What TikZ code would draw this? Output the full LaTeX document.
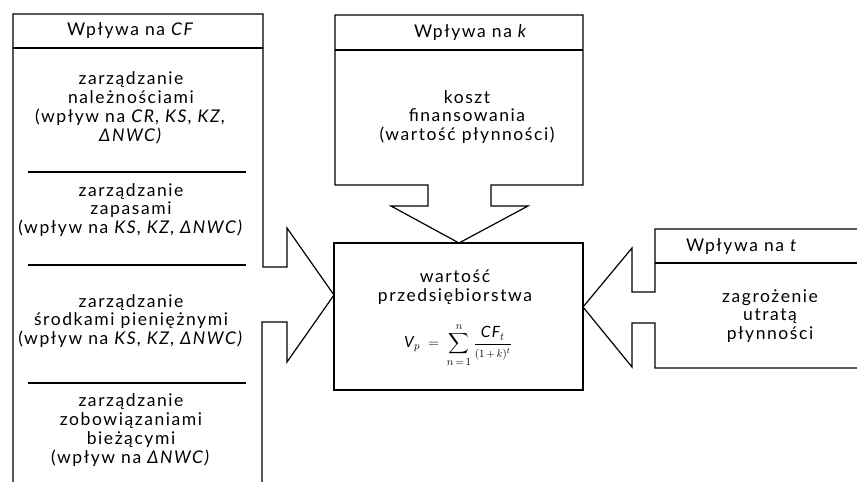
\documentclass[tikz,border=0pt]{standalone}
\usepackage{fontspec}
\usepackage{amsmath}
\setmainfont{Lato}[LetterSpace=9]
\begin{document}
\begin{tikzpicture}[x=1pt,y=-1pt,
  outline/.style={line width=1.2pt,line join=miter},
  rule/.style={line width=1.1pt},
  txt/.style={align=center,inner sep=0pt,font=\fontsize{17.5}{18.8}\selectfont},
  hdr/.style={inner sep=0pt,font=\fontsize{17.5}{18.8}\selectfont}]
\useasboundingbox (0,0) rectangle (857,482);

% tips of the three arrows on the edges of the central box
\coordinate (tipL) at (334,295);
\coordinate (tipT) at (459,243);
\coordinate (tipR) at (583,307);

% central box
\node[draw,outline,minimum width=249pt,minimum height=147pt,inner sep=0pt]
  (firm) at (458.5,316.5) {};
\node[txt] (firmtxt) at (455,287) {wartość\\przedsiębiorstwa};
\node[inner sep=0pt,font=\fontsize{15.5}{18}\selectfont] (formula) at (458,345)
  {$\displaystyle \text{\itshape V}_{p} \;=\; \sum_{n\,=\,1}^{n}
   \frac{\text{\itshape CF}_{t}}{\scriptstyle (1\,+\,k)^{t}}$};

% left box with its arrow
\draw[outline] (13,482) -- (13,14) -- (263,14) -- (263,267) -- (287,267)
  -- (287,228) -- (tipL) -- (287,362) -- (287,322) -- (262,322) -- (262,482);
\draw[rule] (13,48) -- (263,48);
\draw[rule] (28,172) -- (246,172);
\draw[rule] (28,265) -- (246,265);
\draw[rule] (28,383) -- (246,383);
\node[hdr] (hcf) at (131,31) {Wpływa na \textit{CF}};
\node[txt] (rec) at (131,108) {zarządzanie\\należnościami\\(wpływ na \textit{CR, KS, KZ,}\\\textit{ΔNWC)}};
\node[txt] (inv) at (131,210) {zarządzanie\\zapasami\\(wpływ na \textit{KS, KZ, ΔNWC)}};
\node[txt] (cash) at (131,321) {zarządzanie\\środkami pieniężnymi\\(wpływ na \textit{KS, KZ, ΔNWC)}};
\node[txt] (liab) at (131,430) {zarządzanie\\zobowiązaniami\\bieżącymi\\(wpływ na \textit{ΔNWC)}};

% top box with its arrow
\draw[outline] (335,185) -- (335,15) -- (583,15) -- (583,185) -- (491,185)
  -- (491,206) -- (528,206) -- (tipT) -- (391,206) -- (428,206) -- (428,185)
  -- cycle;
\draw[rule] (335,50) -- (583,50);
\node[hdr] (hk) at (471,33) {Wpływa na \textit{k}};
\node[txt] (cost) at (467,117) {koszt\\finansowania\\(wartość płynności)};

% right box with its arrow
\draw[outline] (857,229) -- (655,229) -- (655,292) -- (632,292) -- (632,248)
  -- (tipR) -- (632,367) -- (632,323) -- (655,323) -- (655,368) -- (857,368);
\draw[rule] (655,263) -- (857,263);
\node[hdr] (ht) at (742,247) {Wpływa na \textit{t}};
\node[txt] (risk) at (770,316) {zagrożenie\\utratą\\płynności};
\end{tikzpicture}
\end{document}
